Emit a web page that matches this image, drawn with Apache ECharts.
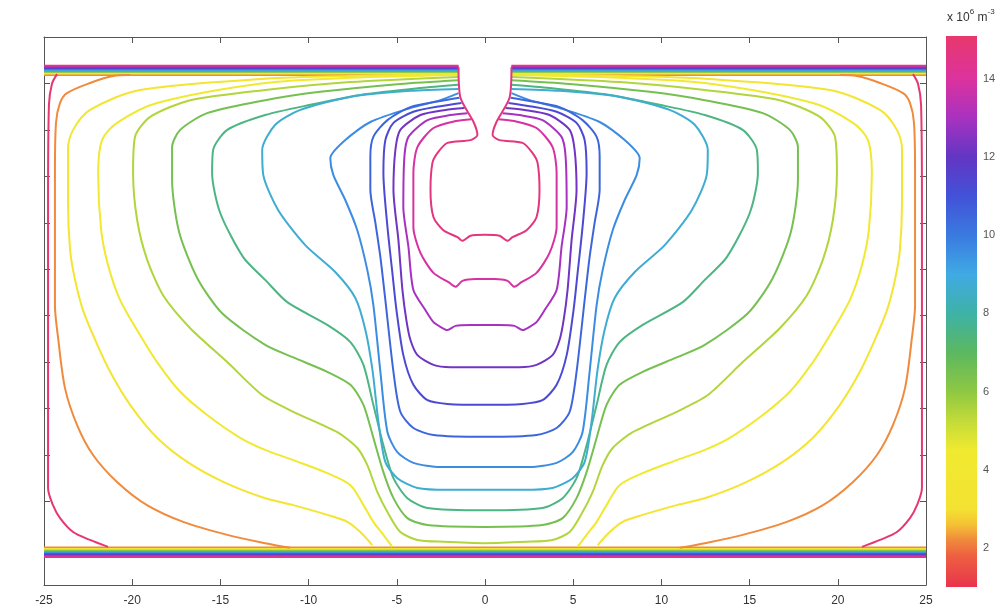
<!DOCTYPE html>
<html>
<head>
<meta charset="utf-8">
<script src="https://cdn.jsdelivr.net/npm/echarts@6/dist/echarts.min.js"></script>
<style>
  html, body { margin: 0; padding: 0; background: #fff; }
  #chart { width: 1000px; height: 609px; }
</style>
</head>
<body>
<div id="chart"></div>
<script>
// Density contours in a half-open cell (x in mm, depth in grid units).
// Each contour is given for the left half, x <= 0; the section is symmetric about x = 0.

const xTicks = [-25, -20, -15, -10, -5, 0, 5, 10, 15, 20, 25];
const barTicks = [2, 4, 6, 8, 10, 12, 14];

// contour levels (x 10^6 m^-3)
const levelWall = 15.0;
const levelA = 14.7, levelB = 13.9, levelC = 13.0, levelD = 12.2, levelE = 11.3;
const levelF = 10.5, levelG = 9.6, levelH = 8.7, levelI = 7.5, levelJ = 6.5;
const levelK = 5.5, levelY2 = 4.4, levelY1 = 3.5, levelOrange = 2.2;

// contours that close across the centre line
const contourA = [[-1.50,0.65],[-1.39,1.31],[-0.65,1.83],[-0.43,2.11],[-0.82,2.22],[-2.13,2.28],[-2.70,2.50],[-2.98,2.71],[-3.09,3.29],[-2.92,3.88],[-2.36,4.16],[-1.56,4.31],[-1.28,4.39],[-0.82,4.28],[0,4.26]];
const contourB = [[-0.77,1.77],[-1.67,1.81],[-2.92,1.96],[-3.83,2.37],[-4.06,2.93],[-4.06,4.09],[-3.66,4.65],[-2.92,5.08],[-2.07,5.28],[-1.67,5.38],[-1.28,5.25],[-0.54,5.21],[0,5.21]];
const contourC = [[-0.99,1.64],[-1.96,1.68],[-3.26,1.79],[-4.34,2.15],[-4.57,2.58],[-4.63,3.66],[-4.34,4.52],[-4.06,5.45],[-3.38,5.88],[-2.92,6.14],[-2.53,6.24],[-2.13,6.31],[-1.67,6.22],[-0.82,6.20],[0,6.20]];
const contourD = [[-1.16,1.53],[-2.24,1.57],[-3.66,1.68],[-4.80,2.00],[-5.08,2.43],[-5.19,3.29],[-4.91,4.37],[-4.68,5.45],[-4.46,6.09],[-4.23,6.52],[-3.83,6.85],[-2.92,7.06],[-1.96,7.11],[0,7.11]];
const contourE = [[-1.33,1.42],[-2.53,1.49],[-4.06,1.61],[-5.19,1.85],[-5.65,2.22],[-5.76,2.93],[-5.53,4.09],[-5.25,5.08],[-5.02,5.88],[-4.63,6.85],[-4.06,7.49],[-3.26,7.82],[-2.13,7.90],[0,7.92]];
const contourF = [[-1.45,1.31],[-2.53,1.38],[-4.23,1.51],[-5.53,1.79],[-6.33,2.15],[-6.50,2.58],[-6.50,3.29],[-6.21,4.01],[-5.93,4.74],[-5.65,5.66],[-5.19,7.21],[-4.80,8.07],[-4.06,8.42],[-2.92,8.57],[0,8.61]];
const contourG = [[-1.50,1.21],[-2.53,1.36],[-4.23,1.53],[-6.50,1.83],[-7.92,2.22],[-8.77,2.61],[-8.60,2.97],[-7.92,3.51],[-7.24,4.16],[-6.67,5.02],[-6.33,5.77],[-5.93,7.21],[-5.53,8.51],[-4.97,8.94],[-4.06,9.17],[-2.53,9.26],[0,9.26]];
const contourH = [[-1.50,1.12],[-4.23,1.16],[-7.63,1.29],[-10.47,1.57],[-11.89,1.89],[-12.63,2.43],[-12.57,2.97],[-11.72,3.73],[-10.19,4.48],[-8.49,5.06],[-7.35,5.62],[-6.78,6.31],[-6.38,7.17],[-6.04,8.29],[-5.65,9.15],[-4.97,9.50],[-3.83,9.71],[-2.13,9.75],[0,9.75]];
const contourI = [[-1.50,1.03],[-3.66,1.10],[-7.07,1.25],[-9.90,1.46],[-12.46,1.68],[-14.61,2.00],[-15.41,2.43],[-15.47,2.93],[-15.01,3.79],[-13.71,4.74],[-12.46,5.23],[-11.21,5.71],[-8.94,6.20],[-7.63,6.57],[-6.89,7.06],[-6.33,7.92],[-5.76,8.79],[-5.19,9.50],[-4.40,9.93],[-3.26,10.14],[0,10.19]];
const contourJ = [[-1.50,0.93],[-4.80,1.01],[-9.34,1.18],[-12.46,1.36],[-15.75,1.64],[-17.28,2.00],[-17.74,2.37],[-17.74,3.08],[-17.34,4.20],[-16.30,5.20],[-14.90,5.95],[-12.46,6.63],[-10.87,6.90],[-8.94,7.21],[-7.63,7.49],[-6.89,7.92],[-6.33,8.63],[-5.76,9.37],[-5.19,9.93],[-4.40,10.36],[-3.26,10.51],[0,10.55]];
const contourK = [[-1.50,0.86],[-7.63,0.97],[-12.46,1.14],[-16.71,1.36],[-18.98,1.72],[-19.84,2.15],[-19.95,2.93],[-19.72,3.94],[-19.15,4.80],[-18.25,5.56],[-16.71,6.27],[-14.61,7.00],[-12.63,7.71],[-10.87,8.07],[-8.37,8.51],[-7.24,8.85],[-6.67,9.22],[-6.10,9.80],[-5.53,10.23],[-4.80,10.66],[-3.83,10.83],[-2.36,10.87],[0,10.90]];

// contours that end on the lower wall (one per side)
const contourY2 = [[-1.50,0.82],[-7.63,0.88],[-12.46,0.99],[-18.59,1.42],[-20.86,1.85],[-21.71,2.22],[-21.93,2.93],[-21.76,4.16],[-21.37,4.91],[-20.69,5.66],[-19.55,6.42],[-18.59,7.00],[-17.28,7.64],[-15.75,8.14],[-13.88,8.63],[-12.46,8.89],[-10.87,9.11],[-8.94,9.39],[-7.63,9.65],[-6.89,10.08],[-6.33,10.44],[-5.76,10.72],[-5.25,10.98]];
const contourY1 = [[-1.50,0.80],[-7.63,0.84],[-12.46,0.90],[-19.55,1.14],[-22.39,1.57],[-23.35,2.00],[-23.64,2.43],[-23.64,3.51],[-23.52,4.59],[-23.24,5.23],[-22.79,5.88],[-22.10,6.52],[-21.25,7.21],[-20.12,7.92],[-18.59,8.63],[-16.88,9.15],[-14.84,9.58],[-12.63,9.91],[-10.87,10.08],[-8.94,10.29],[-7.80,10.44],[-7.07,10.66],[-6.39,10.94]];
const contourOrange = [[-20.12,0.82],[-21.08,0.84],[-22.39,0.99],[-23.70,1.21],[-24.09,1.42],[-24.32,1.85],[-24.38,2.93],[-24.38,5.77],[-24.20,6.48],[-23.81,7.56],[-23.13,8.35],[-22.22,9.00],[-20.86,9.58],[-19.16,10.08],[-17.11,10.44],[-14.61,10.72],[-12.46,10.90],[-11.04,11.00]];
const contourWall = [[-24.26,0.80],[-24.55,1.01],[-24.72,1.46],[-24.77,3.51],[-24.77,9.71],[-24.49,10.08],[-24.09,10.36],[-23.35,10.66],[-22.39,10.83],[-21.37,10.98]];

// thin boundary layers under the upper electrode and above the lower wall
const bandLevels   = [15.0, 14.7, 13.9, 13.0, 12.2, 11.3, 10.5, 9.6, 8.7, 7.5, 6.5, 5.5, 4.4, 3.5, 2.2];
const topBandDepth = [0.614, 0.629, 0.644, 0.659, 0.674, 0.689, 0.704, 0.719, 0.735, 0.750, 0.764, 0.780, 0.795, 0.810, 0.825];
const lowBandDepth = [11.199, 11.184, 11.170, 11.155, 11.139, 11.124, 11.109, 11.094, 11.079, 11.064, 11.049, 11.034, 11.019, 11.004, 10.988];
const slotEdge = 1.5;

// colour map of the density scale
const cmapStops = [
  [1.0, '#e8344c'], [1.8, '#ee6040'], [2.2, '#f08a3c'], [2.6, '#f4c234'], [3.0, '#f4e232'],
  [4.5, '#f0ea30'], [5.2, '#c6dc38'], [6.0, '#8ec842'], [7.0, '#5cb860'], [8.0, '#3eb2a6'],
  [9.0, '#40aae4'], [10.0, '#3a7ae0'], [11.0, '#4252d8'], [12.0, '#6236c4'], [13.0, '#a832c0'],
  [14.0, '#dc329e'], [15.1, '#e8386c']
];
const barMin = 1.0, barMax = 15.1;

function hexToRgb(h) {
  const n = parseInt(h.slice(1), 16);
  return [(n >> 16) & 255, (n >> 8) & 255, n & 255];
}
function levelColor(v) {
  if (v <= cmapStops[0][0]) return cmapStops[0][1];
  for (let i = 1; i < cmapStops.length; i++) {
    if (v <= cmapStops[i][0]) {
      const [v0, c0] = cmapStops[i - 1], [v1, c1] = cmapStops[i];
      const t = (v - v0) / (v1 - v0);
      const a = hexToRgb(c0), b = hexToRgb(c1);
      const m = a.map((u, k) => Math.round(u + (b[k] - u) * t));
      return 'rgb(' + m.join(',') + ')';
    }
  }
  return cmapStops[cmapStops.length - 1][1];
}

const mirror = pts => pts.map(p => [-p[0], p[1]]);
const closeAcross = left => left.concat(mirror(left).reverse().slice(1));

const series = [];
function addLine(data, level, width, smooth) {
  series.push({
    type: 'line', xAxisIndex: 0, yAxisIndex: 0, data: data,
    symbol: 'none', smooth: smooth, silent: true, clip: true,
    lineStyle: { color: levelColor(level), width: width },
    z: 3
  });
}

// boundary layers
bandLevels.forEach((lv, i) => {
  const d = topBandDepth[i];
  addLine([[-25, d], [-slotEdge, d]], lv, 1.6, false);
  addLine([[slotEdge, d], [25, d]], lv, 1.6, false);
});
bandLevels.forEach((lv, i) => {
  const d = lowBandDepth[i];
  addLine([[-25, d], [25, d]], lv, 1.6, false);
});

// open contours, one on each side
[[contourWall, levelWall], [contourOrange, levelOrange], [contourY1, levelY1], [contourY2, levelY2]].forEach(([c, lv]) => {
  addLine(c, lv, 2, 0.3);
  addLine(mirror(c), lv, 2, 0.3);
});

// contours closing across the centre
[[contourK, levelK], [contourJ, levelJ], [contourI, levelI], [contourH, levelH], [contourG, levelG],
 [contourF, levelF], [contourE, levelE], [contourD, levelD], [contourC, levelC], [contourB, levelB],
 [contourA, levelA]].forEach(([c, lv]) => addLine(closeAcross(c), lv, 2, 0.25));

// colour bar
const gradStops = cmapStops.map(([v, c]) => ({ offset: (barMax - v) / (barMax - barMin), color: c }))
  .sort((a, b) => a.offset - b.offset);
series.push({
  type: 'custom', xAxisIndex: 2, yAxisIndex: 2, silent: true,
  data: [[barMin, barMax]],
  renderItem: function (params, api) {
    const p0 = api.coord([0, api.value(1)]);
    const p1 = api.coord([1, api.value(0)]);
    return {
      type: 'rect',
      shape: { x: p0[0], y: p0[1], width: p1[0] - p0[0], height: p1[1] - p0[1] },
      style: { fill: new echarts.graphic.LinearGradient(0, 0, 0, 1, gradStops) }
    };
  }
});

const axisCol = '#555';
const font = "'Liberation Sans Narrow', 'Liberation Sans', Arial, sans-serif";
const frameAxis = (extra) => Object.assign({
  axisLine: { show: true, onZero: false, lineStyle: { color: axisCol, width: 1 } },
  axisTick: { show: true, inside: true, length: 6, lineStyle: { color: axisCol } },
  splitLine: { show: false }
}, extra);

const chart = echarts.init(document.getElementById('chart'), null, { renderer: 'canvas' });
chart.setOption({
  animation: false,
  backgroundColor: '#fff',
  graphic: [{
    type: 'text', left: 947, top: 8, silent: true,
    style: {
      text: '{a|x 10}{s|6}{a| m}{s|-3}',
      rich: {
        a: { fontSize: 12, fill: '#333', fontFamily: font, padding: [6, 0, 0, 0] },
        s: { fontSize: 8, fill: '#333', fontFamily: font, padding: [0, 0, 6, 0] }
      }
    }
  }],
  grid: [
    { left: 44, top: 37, width: 882, height: 548 },
    { left: 946, top: 36, width: 31, height: 551 }
  ],
  xAxis: [
    frameAxis({
      type: 'value', gridIndex: 0, position: 'bottom', min: -25, max: 25, interval: 5,
      axisLabel: { color: '#333', fontSize: 12, margin: 10, fontFamily: font,
        customValues: xTicks, formatter: v => String(v) }
    }),
    frameAxis({
      type: 'value', gridIndex: 0, position: 'top', min: -25, max: 25, interval: 5,
      axisLabel: { show: false }
    }),
    { type: 'value', gridIndex: 1, min: 0, max: 1, show: false }
  ],
  yAxis: [
    frameAxis({
      type: 'value', gridIndex: 0, position: 'left', inverse: true, min: 0, max: 11.8, interval: 1,
      axisLabel: { show: false }
    }),
    frameAxis({
      type: 'value', gridIndex: 0, position: 'right', inverse: true, min: 0, max: 11.8, interval: 1,
      axisLabel: { show: false }
    }),
    {
      type: 'value', gridIndex: 1, position: 'right', min: barMin, max: barMax,
      axisLine: { show: false, onZero: false },
      axisTick: { show: true, inside: true, length: 4, customValues: barTicks, lineStyle: { color: '#444' } },
      axisLabel: { show: true, color: '#555', fontSize: 11, margin: 6, fontFamily: font, customValues: barTicks },
      splitLine: { show: false }
    }
  ],
  series: series
});
</script>
</body>
</html>
